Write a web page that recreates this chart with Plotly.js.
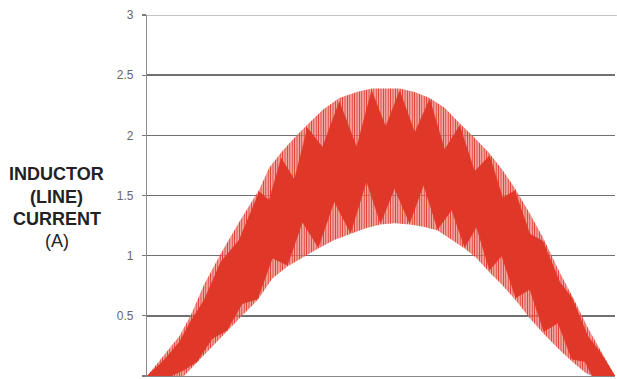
<!DOCTYPE html>
<html>
<head>
<meta charset="utf-8">
<script src="https://cdn.plot.ly/plotly-3.0.1.min.js"></script>
<style>
  html, body { margin: 0; padding: 0; background: #ffffff; }
  #chart { width: 617px; height: 379px; }
</style>
</head>
<body>
<div id="chart"></div>
<script>
// Time axis (arbitrary ms, one half line cycle) and current envelopes (A)
// Outer ripple envelope: peaks of the switching ripple
const tOuterUpper = [0, 0.36, 0.69, 0.94, 1.22, 1.58, 1.97, 2.40, 2.61, 2.87, 3.15, 3.43, 3.75, 4.11, 4.48, 4.80, 5.10, 5.40, 5.72, 6.04, 6.36, 6.68, 7.00, 7.32, 7.60, 7.86, 8.18, 8.46, 8.82, 9.08, 9.42, 9.68, 10];
const iOuterUpper = [0, 0.17, 0.33, 0.51, 0.76, 1.02, 1.28, 1.55, 1.73, 1.86, 1.98, 2.09, 2.21, 2.31, 2.36, 2.39, 2.39, 2.39, 2.36, 2.31, 2.23, 2.10, 1.98, 1.85, 1.71, 1.56, 1.35, 1.15, 0.86, 0.67, 0.40, 0.22, 0];
// Outer ripple envelope: troughs of the switching ripple
const tOuterLower = [0, 0.79, 1.11, 1.43, 1.71, 2.03, 2.36, 2.68, 3.00, 3.32, 3.66, 4.00, 4.35, 4.69, 4.99, 5.29, 5.61, 5.91, 6.21, 6.51, 6.79, 7.04, 7.32, 7.58, 7.88, 8.18, 8.48, 8.78, 9.08, 9.36, 9.51, 10];
const iOuterLower = [0, 0, 0.13, 0.26, 0.37, 0.50, 0.63, 0.81, 0.91, 0.98, 1.06, 1.13, 1.18, 1.23, 1.26, 1.27, 1.26, 1.24, 1.21, 1.13, 1.06, 0.98, 0.86, 0.76, 0.63, 0.48, 0.35, 0.23, 0.12, 0.03, 0, 0];
// Dense core (beat pattern): upper edge
const tCoreUpper = [0, 0.36, 0.69, 0.94, 1.22, 1.58, 1.97, 2.40, 2.61, 2.87, 3.15, 3.43, 3.75, 4.11, 4.48, 4.80, 5.10, 5.40, 5.72, 6.04, 6.36, 6.68, 7.00, 7.32, 7.60, 7.86, 8.18, 8.46, 8.82, 9.08, 9.42, 9.68, 10];
const iCoreUpper = [0, 0.13, 0.28, 0.46, 0.63, 0.95, 1.13, 1.53, 1.46, 1.81, 1.63, 2.06, 1.90, 2.28, 1.90, 2.37, 2.07, 2.37, 2.02, 2.30, 1.88, 2.08, 1.70, 1.83, 1.48, 1.54, 1.18, 1.12, 0.78, 0.65, 0.33, 0.20, 0];
// Dense core (beat pattern): lower edge
const tCoreLower = [0, 0.51, 0.79, 1.07, 1.39, 1.71, 2.03, 2.36, 2.68, 3.00, 3.32, 3.66, 4.00, 4.35, 4.69, 4.99, 5.29, 5.61, 5.91, 6.21, 6.51, 6.79, 7.04, 7.32, 7.58, 7.88, 8.18, 8.48, 8.78, 9.08, 9.36, 9.51, 10];
const iCoreLower = [0, 0, 0.05, 0.12, 0.31, 0.38, 0.60, 0.64, 0.98, 0.92, 1.28, 1.07, 1.45, 1.19, 1.62, 1.27, 1.56, 1.27, 1.59, 1.22, 1.38, 1.07, 1.24, 0.88, 1.00, 0.65, 0.72, 0.37, 0.44, 0.14, 0.12, 0, 0];

const yTicks = [0, 0.5, 1, 1.5, 2, 2.5, 3];
const yTickText = ['0', '0.5', '1', '1.5', '2', '2.5', '3'];
const yMax = 3;
const titleLines = ['<b>INDUCTOR</b>', '<b>(LINE)</b>', '<b>CURRENT</b>', '(A)'];

const RED = '#df3828';

function band(tTop, vTop, tBot, vBot) {
  return {
    x: tTop.concat(tBot.slice().reverse()),
    y: vTop.concat(vBot.slice().reverse())
  };
}

const outer = band(tOuterUpper, iOuterUpper, tOuterLower, iOuterLower);
const core = band(tCoreUpper, iCoreUpper, tCoreLower, iCoreLower);

const traces = [
  {
    type: 'scatter', mode: 'lines',
    x: outer.x, y: outer.y,
    fill: 'toself',
    fillcolor: RED,
    fillpattern: { shape: '|', fgcolor: RED, bgcolor: 'rgba(246,190,184,0.55)', size: 2.4, solidity: 0.55 },
    line: { width: 0, color: RED },
    hoverinfo: 'skip', showlegend: false
  },
  {
    type: 'scatter', mode: 'lines',
    x: core.x, y: core.y,
    fill: 'toself',
    fillcolor: RED,
    line: { width: 0.6, color: RED },
    hoverinfo: 'skip', showlegend: false
  }
];

const linePx = [174, 196.5, 218.5, 241];
const annotations = titleLines.map((txt, k) => ({
  text: txt,
  xref: 'paper', yref: 'paper',
  x: (56.5 - 147) / 468,
  y: (376 - linePx[k]) / 361,
  xanchor: 'center', yanchor: 'middle',
  showarrow: false,
  font: { family: 'Liberation Sans, Arial, sans-serif', size: 18, color: '#222222' }
}));

const layout = {
  width: 617, height: 379,
  margin: { l: 147, r: 2, t: 15, b: 3 },
  paper_bgcolor: '#ffffff', plot_bgcolor: '#ffffff',
  showlegend: false,
  xaxis: {
    range: [0, 10],
    showgrid: false, zeroline: false,
    showticklabels: false, ticks: '',
    showline: true, linecolor: '#8a8a8a', linewidth: 1.2
  },
  yaxis: {
    range: [0, yMax],
    tickmode: 'array', tickvals: yTicks, ticktext: yTickText,
    ticks: 'outside', ticklen: 4, tickcolor: '#7a7a7a', tickwidth: 1.2,
    ticklabelstandoff: 6,
    tickfont: { family: 'Liberation Sans, Arial, sans-serif', size: 12, color: '#666666' },
    showgrid: true, gridcolor: '#707070', gridwidth: 1.4,
    zeroline: false,
    showline: true, linecolor: '#8a8a8a', linewidth: 1.2
  },
  shapes: [{
    type: 'line', xref: 'paper', yref: 'y',
    x0: 0, x1: 1.004, y0: yMax, y1: yMax,
    line: { color: '#8a8a8a', width: 1.2 },
    layer: 'below'
  }],
  annotations: annotations
};

Plotly.newPlot('chart', traces, layout, { displayModeBar: false, staticPlot: true });
</script>
</body>
</html>
